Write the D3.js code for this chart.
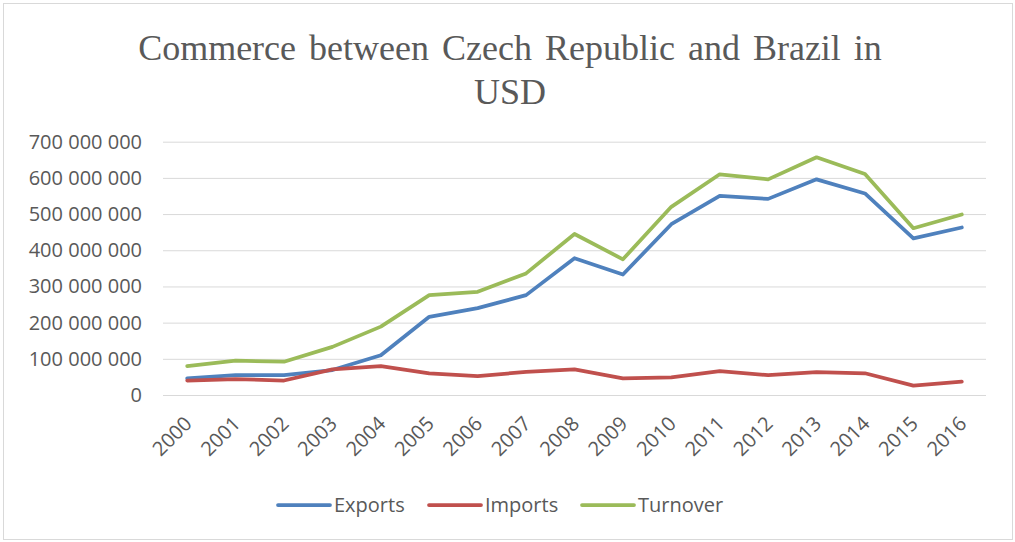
<!DOCTYPE html>
<html>
<head>
<meta charset="utf-8">
<script src="https://cdnjs.cloudflare.com/ajax/libs/d3/7.8.5/d3.min.js"></script>
<style>
  body { margin: 0; background: #fff; }
  text { fill: #595959; }
</style>
</head>
<body>
<div id="container"></div>
<script>
const years = ["2000","2001","2002","2003","2004","2005","2006","2007","2008","2009","2010","2011","2012","2013","2014","2015","2016"];
const exportsUSD = [46e6, 55e6, 55e6, 69e6, 110e6, 216e6, 240e6, 276e6, 378e6, 333e6, 472e6, 550e6, 542e6, 596e6, 557e6, 433e6, 463e6];
const importsUSD = [40e6, 44e6, 40e6, 71e6, 80e6, 60e6, 52e6, 64e6, 71e6, 46e6, 49e6, 66e6, 55e6, 63e6, 60e6, 26e6, 37e6];
const turnoverUSD = [80e6, 95e6, 92e6, 133e6, 189e6, 276e6, 285e6, 336e6, 445e6, 375e6, 520e6, 610e6, 596e6, 657e6, 611e6, 461e6, 499e6];
const yTicks = [0, 100e6, 200e6, 300e6, 400e6, 500e6, 600e6, 700e6];

const series = [
  {name: "Exports", values: exportsUSD, color: "#4F81BD"},
  {name: "Imports", values: importsUSD, color: "#C0504D"},
  {name: "Turnover", values: turnoverUSD, color: "#9BBB59"}
];

const w = 1015;
const h = 542;
const svg = d3.select("#container")
  .append("svg")
  .attr("width", w)
  .attr("height", h);

// chart frame
svg.append("rect")
  .attr("x", 3.5).attr("y", 3.5)
  .attr("width", 1009).attr("height", 536)
  .attr("fill", "#fff")
  .attr("stroke", "#d9d9d9");

// title
const title = svg.append("text")
  .attr("text-anchor", "middle")
  .style("font-family", "'Liberation Serif', 'Times New Roman', serif")
  .style("font-size", "36px")
  .style("word-spacing", "4px");
title.append("tspan").attr("x", 510).attr("y", 60).text("Commerce between Czech Republic and Brazil in");
title.append("tspan").attr("x", 510).attr("y", 104).text("USD");

const plotLeft = 163, plotRight = 986, plotTop = 141.7, plotBottom = 395;

const xScale = d3.scaleBand()
  .domain(years)
  .range([plotLeft, plotRight]);

const yScale = d3.scaleLinear()
  .domain([0, 700e6])
  .range([plotBottom, plotTop]);

const fmt = (v) => d3.format(",")(v).replace(/,/g, " ");

// gridlines + y labels
const yAxis = d3.axisLeft(yScale)
  .tickValues(yTicks)
  .tickSize(-(plotRight - plotLeft))
  .tickPadding(21)
  .tickFormat(fmt);

svg.append("g")
  .attr("transform", "translate(" + plotLeft + ",0)")
  .call(yAxis)
  .call(g => g.select(".domain").remove())
  .call(g => g.selectAll(".tick line").attr("stroke", "#d9d9d9"))
  .call(g => g.selectAll(".tick text")
    .style("font-family", "'Open Sans', sans-serif")
    .style("font-size", "20px")
    .attr("fill", "#595959"));

// x labels
const xAxis = d3.axisBottom(xScale).tickSize(0).tickPadding(0);
svg.append("g")
  .attr("transform", "translate(0," + plotBottom + ")")
  .call(xAxis)
  .call(g => g.select(".domain").remove())
  .call(g => g.selectAll(".tick text")
    .style("font-family", "'Open Sans', sans-serif")
    .style("font-size", "20px")
    .attr("fill", "#595959")
    .attr("text-anchor", "end")
    .attr("dy", 0)
    .attr("transform", "translate(6,30) rotate(-45)"));

const line = d3.line()
  .x((d, i) => xScale(years[i]) + xScale.bandwidth() / 2)
  .y((d) => yScale(d));

svg.selectAll("path.series")
  .data(series)
  .enter()
  .append("path")
  .attr("class", "series")
  .attr("d", (d) => line(d.values))
  .attr("fill", "none")
  .attr("stroke", (d) => d.color)
  .attr("stroke-width", 3.75)
  .attr("stroke-linejoin", "round")
  .attr("stroke-linecap", "round");

// legend
const legendX = [278, 429, 582];
const legend = svg.selectAll("g.legend")
  .data(series)
  .enter()
  .append("g")
  .attr("class", "legend")
  .attr("transform", (d, i) => "translate(" + legendX[i] + ",505)");

legend.append("line")
  .attr("x1", 0).attr("x2", 52)
  .attr("stroke", (d) => d.color)
  .attr("stroke-width", 3.75)
  .attr("stroke-linecap", "round");

legend.append("text")
  .attr("x", 56)
  .attr("dy", "0.35em")
  .style("font-family", "'Open Sans', sans-serif")
  .style("font-size", "20px")
  .text((d) => d.name);
</script>
</body>
</html>
